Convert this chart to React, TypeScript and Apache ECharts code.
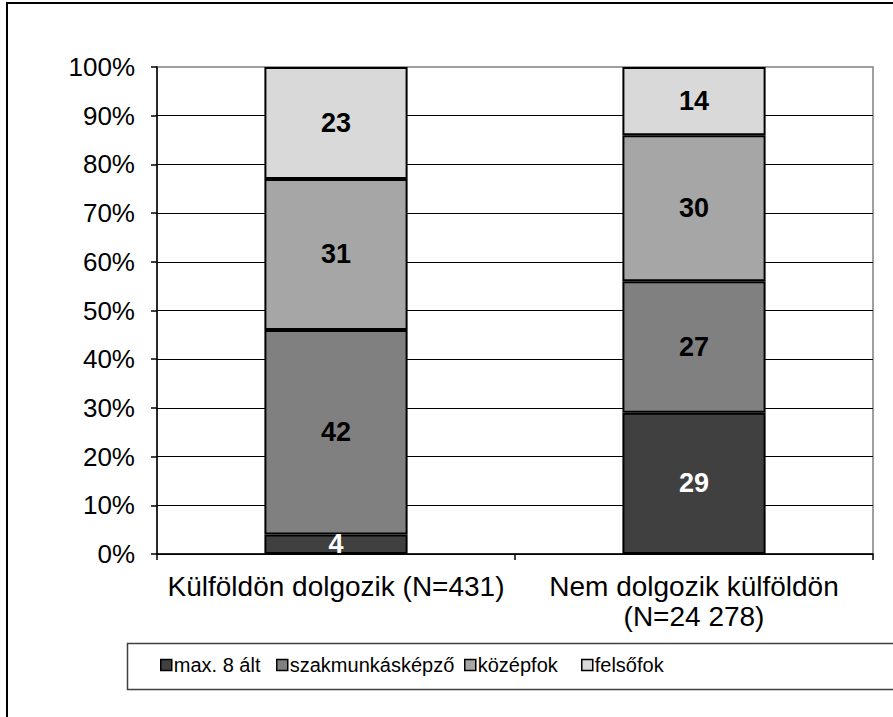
import React, { useEffect, useRef } from "react";
import * as echarts from "echarts";

const categories = ["Külföldön dolgozik (N=431)", "Nem dolgozik külföldön\n(N=24 278)"];
const seriesNames = ["max. 8 ált", "szakmunkásképző", "középfok", "felsőfok"];
const max8 = [4, 29];
const szakmunkas = [42, 27];
const kozepfok = [31, 30];
const felsofok = [23, 14];
const yTicks = [0, 10, 20, 30, 40, 50, 60, 70, 80, 90, 100];

const colors = ["#404040", "#808080", "#A6A6A6", "#D9D9D9"];
const labelColors = ["#ffffff", "#000000", "#000000", "#000000"];
const legendLefts = [160, 276, 464, 581];
const FONT = "'Liberation Sans', Arial, sans-serif";

export default function App() {
  const ref = useRef<HTMLDivElement>(null);
  useEffect(() => {
    document.body.style.margin = "0";
    const chart = echarts.init(ref.current!, null, { renderer: "svg" });
    const data = [max8, szakmunkas, kozepfok, felsofok];
    chart.setOption({
      animation: false,
      backgroundColor: "#ffffff",
      textStyle: { fontFamily: FONT },
      grid: {
        left: 157,
        right: 20,
        top: 67,
        bottom: 163,
        show: true,
        borderColor: "#808080",
        borderWidth: 1.5,
        backgroundColor: "transparent",
      },
      legend: seriesNames.map((n, i) => ({
        data: [n],
        left: legendLefts[i],
        top: 655,
        padding: 0,
        itemWidth: 11,
        itemHeight: 11,
        icon: "rect",
        itemStyle: { borderColor: "#000", borderWidth: 1.5 },
        textStyle: { fontSize: 20, color: "#000", fontFamily: FONT, padding: [0, 0, 0, -3] },
      })),
      xAxis: {
        type: "category",
        data: categories,
        axisLine: { lineStyle: { color: "#000", width: 1.5 } },
        axisTick: { show: true, length: 6, lineStyle: { color: "#000", width: 1.5 } },
        axisLabel: { fontSize: 28, color: "#000", margin: 17, lineHeight: 30, fontFamily: FONT, interval: 0 },
      },
      yAxis: {
        type: "value",
        min: 0,
        max: 100,
        interval: 10,
        axisLine: { show: true, lineStyle: { color: "#000", width: 1.5 } },
        axisTick: { show: true, length: 6, lineStyle: { color: "#000", width: 1.5 } },
        splitLine: { show: true, showMaxLine: false, lineStyle: { color: "#000", width: 1 } },
        axisLabel: {
          fontSize: 26,
          color: "#000",
          margin: 22,
          fontFamily: FONT,
          formatter: (v: number) => (yTicks.includes(v) ? v + "%" : ""),
        },
      },
      series: seriesNames.map((n, i) => ({
        name: n,
        type: "bar",
        stack: "total",
        barWidth: "40%",
        data: data[i],
        itemStyle: { color: colors[i], borderColor: "#000", borderWidth: 2 },
        label: {
          show: true,
          position: "inside",
          fontSize: 27,
          fontWeight: "bold",
          color: labelColors[i],
          fontFamily: FONT,
        },
      })),
      graphic: [
        {
          type: "rect",
          shape: { x: 7, y: 3, width: 1000, height: 1000 },
          style: { fill: "none", stroke: "#000", lineWidth: 2 },
          silent: true,
        },
        {
          type: "rect",
          shape: { x: 127.5, y: 643.5, width: 800, height: 46 },
          style: { fill: "none", stroke: "#404040", lineWidth: 1.5 },
          silent: true,
        },
      ],
    });
    return () => chart.dispose();
  }, []);
  return <div ref={ref} style={{ width: 893, height: 717 }} />;
}
